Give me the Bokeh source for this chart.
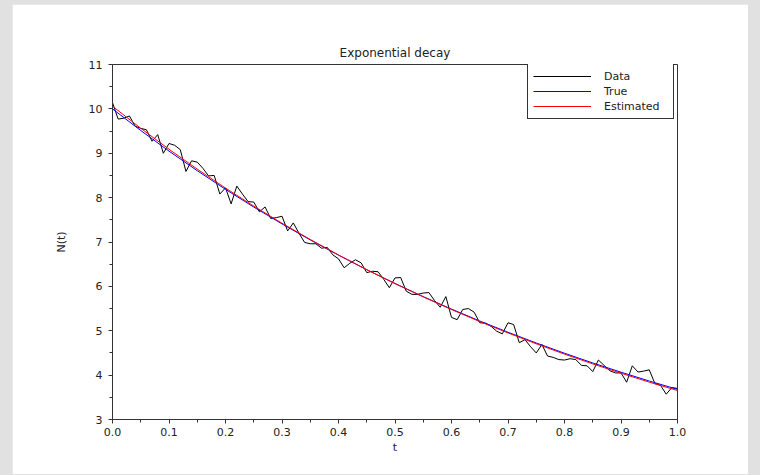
from bokeh.plotting import figure
from bokeh.models import (Range1d, SingleIntervalTicker, PrintfTickFormatter,
                          Legend, LegendItem, GlobalInlineStyleSheet)
from bokeh.embed import file_html
from bokeh.resources import INLINE

# ---- data ----
t_data = [0.00, 0.01, 0.02, 0.03, 0.04, 0.05, 0.06, 0.07, 0.08, 0.09,
          0.10, 0.11, 0.12, 0.13, 0.14, 0.15, 0.16, 0.17, 0.18, 0.19,
          0.20, 0.21, 0.22, 0.23, 0.24, 0.25, 0.26, 0.27, 0.28, 0.29,
          0.30, 0.31, 0.32, 0.33, 0.34, 0.35, 0.36, 0.37, 0.38, 0.39,
          0.40, 0.41, 0.42, 0.43, 0.44, 0.45, 0.46, 0.47, 0.48, 0.49,
          0.50, 0.51, 0.52, 0.53, 0.54, 0.55, 0.56, 0.57, 0.58, 0.59,
          0.60, 0.61, 0.62, 0.63, 0.64, 0.65, 0.66, 0.67, 0.68, 0.69,
          0.70, 0.71, 0.72, 0.73, 0.74, 0.75, 0.76, 0.77, 0.78, 0.79,
          0.80, 0.81, 0.82, 0.83, 0.84, 0.85, 0.86, 0.87, 0.88, 0.89,
          0.90, 0.91, 0.92, 0.93, 0.94, 0.95, 0.96, 0.97, 0.98, 0.99,
          1.00]
n_data = [10.14, 9.77, 9.79, 9.84, 9.61, 9.56, 9.53, 9.27, 9.42, 9.00,
          9.22, 9.18, 9.08, 8.59, 8.83, 8.80, 8.66, 8.49, 8.50, 8.08,
          8.22, 7.86, 8.26, 8.08, 7.91, 7.90, 7.68, 7.79, 7.53, 7.55,
          7.58, 7.25, 7.43, 7.20, 6.99, 6.96, 6.96, 6.86, 6.88, 6.71,
          6.62, 6.42, 6.52, 6.60, 6.53, 6.31, 6.34, 6.33, 6.16, 5.97,
          6.19, 6.20, 5.89, 5.82, 5.82, 5.85, 5.86, 5.68, 5.53, 5.77,
          5.30, 5.25, 5.48, 5.50, 5.42, 5.18, 5.17, 5.10, 4.99, 4.93,
          5.18, 5.14, 4.73, 4.80, 4.64, 4.50, 4.69, 4.43, 4.40, 4.35,
          4.34, 4.37, 4.35, 4.22, 4.21, 4.08, 4.34, 4.22, 4.10, 4.05,
          4.05, 3.84, 4.21, 4.07, 4.09, 4.12, 3.81, 3.77, 3.57, 3.72,
          3.70]

t_curve = [0.00, 0.05, 0.10, 0.15, 0.20, 0.25, 0.30, 0.35, 0.40, 0.45, 0.50,
           0.55, 0.60, 0.65, 0.70, 0.75, 0.80, 0.85, 0.90, 0.95, 1.00]
n_true = [10.000, 9.512, 9.048, 8.607, 8.187, 7.788, 7.408, 7.047, 6.703, 6.376, 6.065,
          5.769, 5.488, 5.220, 4.966, 4.724, 4.493, 4.274, 4.066, 3.867, 3.679]
n_est = [10.060, 9.563, 9.090, 8.642, 8.215, 7.809, 7.423, 7.057, 6.708, 6.377, 6.062,
         5.762, 5.478, 5.207, 4.951, 4.706, 4.473, 4.253, 4.043, 3.842, 3.653]

series_labels = ["Data", "True", "Estimated"]
title_text = "Exponential decay"
x_label = "t"
y_label = "N(t)"

FONT = "DejaVu Sans"
DARK = "#333333"

p = figure(width=736, height=470, output_backend="svg", toolbar_location=None,
           x_range=Range1d(0, 1), y_range=Range1d(3, 11),
           min_border_left=100, min_border_right=71,
           min_border_top=60, min_border_bottom=55,
           background_fill_color="white", border_fill_color="white",
           title=title_text)
p.styles = {"margin-left": "12px", "margin-top": "4px"}
p.stylesheets = [GlobalInlineStyleSheet(css="body { background-color: #e1e1e1; }")]

p.title.align = "center"
p.title.text_font = FONT
p.title.text_font_size = "12px"
p.title.text_font_style = "normal"
p.title.text_color = "#222222"
p.title.standoff = 9

p.xgrid.visible = False
p.ygrid.visible = False
p.outline_line_color = DARK
p.outline_line_width = 1
p.outline_line_alpha = 1

p.xaxis.ticker = SingleIntervalTicker(interval=0.1, num_minor_ticks=2)
p.xaxis.formatter = PrintfTickFormatter(format="%.1f")
p.yaxis.ticker = SingleIntervalTicker(interval=1, num_minor_ticks=2)

for ax in (p.xaxis[0], p.yaxis[0]):
    ax.axis_line_color = DARK
    ax.major_tick_line_color = DARK
    ax.minor_tick_line_color = DARK
    ax.major_tick_in = 0
    ax.major_tick_out = 4
    ax.minor_tick_in = 0
    ax.minor_tick_out = 3
    ax.major_label_text_font = FONT
    ax.major_label_text_font_size = "11px"
    ax.major_label_text_color = "#222222"
    ax.axis_label_text_font = FONT
    ax.axis_label_text_font_size = "11px"
    ax.axis_label_text_font_style = "normal"
    ax.axis_label_text_color = "#222222"

p.xaxis.axis_label = x_label
p.yaxis.axis_label = y_label
p.xaxis.major_label_standoff = 4
p.yaxis.major_label_standoff = 6
p.xaxis.axis_label_standoff = 2
p.yaxis.axis_label_standoff = 18

r_data = p.line(t_data, n_data, line_color="black", line_width=1)
r_true = p.line(t_curve, n_true, line_color="blue", line_width=1)
r_est = p.line(t_curve, n_est, line_color="red", line_width=1)

legend = Legend(items=[LegendItem(label=series_labels[0], renderers=[r_data]),
                       LegendItem(label=series_labels[1], renderers=[r_true]),
                       LegendItem(label=series_labels[2], renderers=[r_est])],
                location=(415, 300))
legend.border_line_color = DARK
legend.border_line_width = 1
legend.border_line_alpha = 1
legend.background_fill_color = "white"
legend.background_fill_alpha = 1
legend.label_text_font = FONT
legend.label_text_font_size = "11px"
legend.label_text_color = "#222222"
legend.padding = 5
legend.spacing = 1
legend.margin = 0
legend.glyph_width = 58
legend.glyph_height = 14
legend.label_height = 14
legend.label_width = 64
legend.label_standoff = 13
p.add_layout(legend)

open("out.html", "w").write(file_html(p, INLINE))
